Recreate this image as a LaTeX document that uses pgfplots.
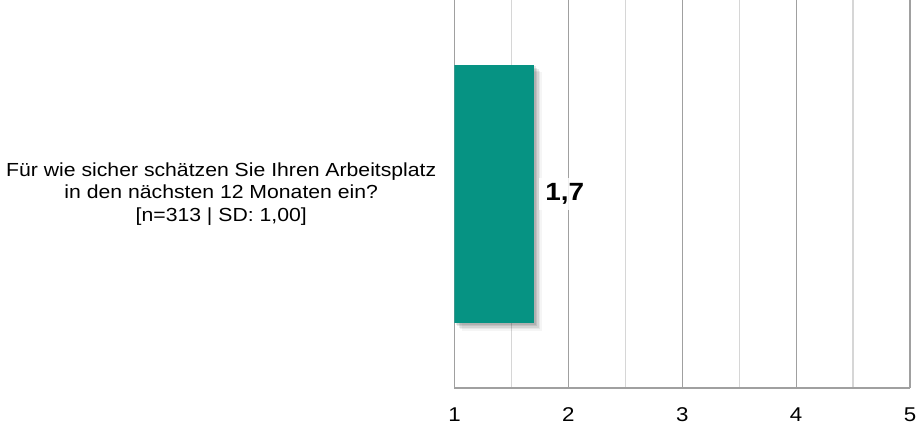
\documentclass[border=0pt]{standalone}
\usepackage{pgfplots}
\pgfplotsset{compat=1.18}
\usepackage{fontspec}
\setmainfont[FakeStretch=1.12]{Liberation Sans}
\usetikzlibrary{shadows}
\definecolor{barcol}{RGB}{6,147,131}
\definecolor{majgrid}{RGB}{160,160,160}
\definecolor{mingrid}{RGB}{214,214,214}
\begin{document}
\begin{tikzpicture}
\path[use as bounding box] (-454.5bp,-37bp) rectangle (463.5bp,388bp);
\begin{axis}[
  at={(0,0)}, anchor=south west,
  scale only axis,
  width=455.5bp, height=388bp,
  xmin=1, xmax=5, ymin=-1, ymax=1,
  axis x line=bottom, axis y line=left,
  axis line style={-, color=majgrid, line width=1.2bp},
  xtick={1,2,3,4,5},
  minor xtick={1.5,2.5,3.5,4.5},
  xmajorgrids, xminorgrids,
  major grid style={color=majgrid, line width=1.2bp},
  minor grid style={color=mingrid, line width=1.2bp},
  major tick length=0pt, minor tick length=0pt,
  ytick={0},
  yticklabels={{Für wie sicher schätzen Sie Ihren Arbeitsplatz\\in den nächsten 12 Monaten ein?\\{[}n=313 | SD: 1{,}00{]}}},
  yticklabel style={align=center, inner sep=0pt, xshift=-18bp, font=\fontsize{19}{22.5}\selectfont},
  xticklabel style={font=\fontsize{20}{20}\selectfont, anchor=base, inner sep=0pt, yshift=-33bp},
  /pgf/number format/.cd, use comma, fixed, precision=1, assume math mode=true,
]
\addplot[xbar, fill=barcol, draw=none, bar width=258bp,
  drop shadow={shadow xshift=1.5bp, shadow yshift=-1.5bp, fill=black, opacity=0.09},
  drop shadow={shadow xshift=3bp, shadow yshift=-3bp, fill=black, opacity=0.09},
  drop shadow={shadow xshift=4.5bp, shadow yshift=-4.5bp, fill=black, opacity=0.08},
  drop shadow={shadow xshift=6bp, shadow yshift=-6bp, fill=black, opacity=0.06},
  drop shadow={shadow xshift=7.5bp, shadow yshift=-7.5bp, fill=black, opacity=0.04},
  nodes near coords,
  nodes near coords style={font=\bfseries\fontsize{25}{25}\selectfont, fill=white, fill opacity=0.85, text opacity=1, inner sep=6bp, anchor=west, xshift=5bp, text=black}
] coordinates {(1.7,0)};
\end{axis}
\end{tikzpicture}
\end{document}
